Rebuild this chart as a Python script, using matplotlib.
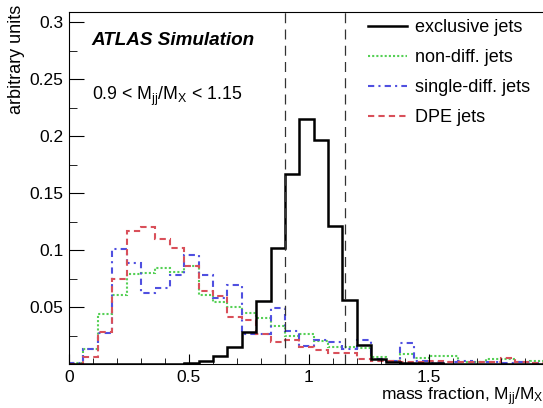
import matplotlib
matplotlib.use('Agg')
import matplotlib.pyplot as plt
from matplotlib.ticker import MultipleLocator
import numpy as np

plt.rcParams['font.family'] = ['Liberation Sans', 'DejaVu Sans']
plt.rcParams['mathtext.default'] = 'regular'

# histogram binning: 33 bins of 0.06 from 0 to 1.98
edges = np.round(np.arange(34) * 0.06, 2)

exclusive = [0, 0, 0, 0, 0, 0, 0, 0, 0.0012, 0.003, 0.007, 0.015, 0.028,
             0.055, 0.102, 0.167, 0.215, 0.197, 0.121, 0.056, 0.017, 0.004,
             0.0015, 0.001, 0.0005, 0.0005, 0, 0, 0, 0, 0, 0, 0]
nondiff = [0.001, 0.013, 0.044, 0.061, 0.079, 0.080, 0.084, 0.081, 0.086,
           0.061, 0.054, 0.050, 0.045, 0.040, 0.033, 0.025, 0.026, 0.020,
           0.015, 0.015, 0.014, 0.0065, 0.003, 0.0085, 0.005, 0.007, 0.007,
           0.002, 0.002, 0.0045, 0.0045, 0.002, 0.003]
singlediff = [0.001, 0.013, 0.027, 0.101, 0.089, 0.062, 0.067, 0.078, 0.096,
              0.078, 0.058, 0.069, 0.026, 0.026, 0.049, 0.029, 0.016, 0.021,
              0.019, 0.013, 0.021, 0.004, 0.003, 0.018, 0.003, 0.002, 0.002,
              0.003, 0.002, 0.002, 0.001, 0.002, 0.001]
dpe = [0, 0.006, 0.028, 0.075, 0.117, 0.120, 0.110, 0.102, 0.086, 0.064,
       0.060, 0.0415, 0.0386, 0.026, 0.019, 0.021, 0.015, 0.012, 0.0096,
       0.010, 0.0044, 0.003, 0.003, 0.002, 0.0015, 0.003, 0.002, 0.002,
       0.002, 0.002, 0.005, 0.002, 0.001]

cut_lo, cut_hi = 0.9, 1.15
xticks = [0, 0.5, 1, 1.5]
xticklabels = ['0', '0.5', '1', '1.5']
yticks = [0.05, 0.1, 0.15, 0.2, 0.25, 0.3]
yticklabels = ['0.05', '0.1', '0.15', '0.2', '0.25', '0.3']

fig = plt.figure(figsize=(5.43, 4.08), dpi=100)
ax = fig.add_axes([69 / 543, 1 - 364 / 408, 475 / 543, 352 / 408])

ax.stairs(nondiff, edges, color='#55d055', lw=1.5, linestyle=(0, (1, 1)), label='non-diff. jets')
ax.stairs(singlediff, edges, color='#5050e0', lw=1.5, linestyle=(0, (3, 2, 1, 2)), label='single-diff. jets')
ax.stairs(dpe, edges, color='#d9505a', lw=1.5, linestyle=(0, (3, 2)), label='DPE jets')
ax.stairs(exclusive, edges, color='black', lw=1.8, label='exclusive jets')

for c in (cut_lo, cut_hi):
    ax.axvline(c, color='#333333', lw=0.9, linestyle=(0, (8, 5)))

ax.set_xlim(0, 1.98)
ax.set_ylim(0, 0.309)
ax.set_xticks(xticks)
ax.set_xticklabels(xticklabels)
ax.set_yticks(yticks)
ax.set_yticklabels(yticklabels)
ax.xaxis.set_minor_locator(MultipleLocator(0.1))
ax.yaxis.set_minor_locator(MultipleLocator(0.025))
ax.tick_params(which='both', direction='in', labelsize=12.5)
ax.tick_params(axis='x', which='major', length=7, pad=4)
ax.tick_params(axis='x', which='minor', length=4)
ax.tick_params(axis='y', which='major', length=11, pad=4)
ax.tick_params(axis='y', which='minor', length=6)
ax.spines['right'].set_visible(False)

ax.set_ylabel('arbitrary units', loc='top', fontsize=13)
ax.yaxis.set_label_coords(-0.092, 1.02)
ax.set_xlabel('mass fraction, M$_{jj}$/M$_{X}$', loc='right', fontsize=12.5)
ax.xaxis.set_label_coords(1.0, -0.062)

ax.text(0.048, 0.9066, 'ATLAS Simulation', transform=ax.transAxes,
        fontsize=13.6, fontweight='bold', fontstyle='italic', va='baseline')
ax.text(0.048, 0.749, '0.9 < M$_{jj}$/M$_{X}$ < 1.15', transform=ax.transAxes,
        fontsize=12.8, va='baseline')

handles, labels = ax.get_legend_handles_labels()
order = [3, 0, 1, 2]
ax.legend([handles[i] for i in order], [labels[i] for i in order],
          loc='upper left', bbox_to_anchor=(0.629, 0.98), frameon=False,
          fontsize=13, borderpad=0, borderaxespad=0, labelspacing=0.72,
          handlelength=2.15, handletextpad=0.45)

fig.savefig('out.png', dpi=100)
